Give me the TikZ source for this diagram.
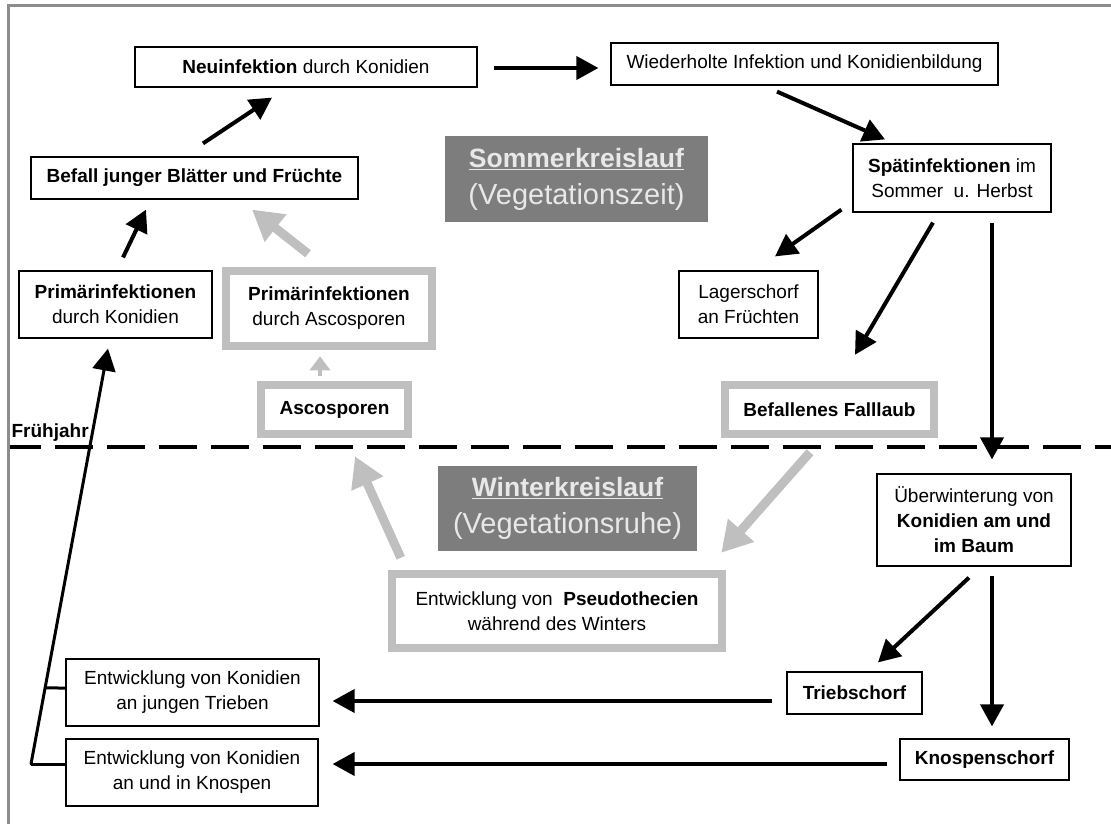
\documentclass[tikz,border=0pt]{standalone}
\usepackage{fontspec}
\setmainfont{Liberation Sans}
\usetikzlibrary{arrows.meta,calc}

\definecolor{framegray}{RGB}{140,140,140}
\definecolor{palegray}{RGB}{191,191,191}
\definecolor{labelgray}{RGB}{125,125,125}
\definecolor{labeltext}{RGB}{232,232,232}

\tikzset{every picture/.style={line width=1.2pt},
  box/.style={draw=black, line width=1.2pt, fill=white, inner sep=0pt, align=center, font=\fontsize{19}{25}\selectfont},
  greybox/.style={box, draw=palegray, line width=8.5pt},
  season/.style={fill=labelgray, text=labeltext, inner sep=0pt, align=center, font=\fontsize{29}{37}\selectfont},
  arr/.style={line width=4pt, -{Triangle[length=22pt,width=23pt]}},
  greyarr/.style={draw=palegray, line width=9pt, -{Triangle[length=30pt,width=33pt]}, fill=palegray},
  thinarr/.style={draw=palegray, line width=4pt, -{Triangle[length=14pt,width=20pt]}, fill=palegray}}

\begin{document}
\begin{tikzpicture}[x=1pt,y=1pt,yscale=-1,xscale=1]
\useasboundingbox (0,0) rectangle (1111,824);

%Frame
\draw [color=framegray, line width=3pt] (7,6) -- (1111,6) ;
\draw [color=framegray, line width=3pt] (8,6) -- (8,824) ;
%Season border
\draw [line width=4pt, dash pattern=on 38pt off 14pt, dash phase=7pt] (10,447) -- (1111,447) ;
\draw (11,437) node [anchor=base west, inner sep=0pt, font=\fontsize{19}{25}\selectfont] (fruehjahr) {\textbf{Frühjahr}};

% Season labels
\draw (576.5,179) node [season, minimum width=263pt, minimum height=86pt] (sommer) {{\fontsize{26.5}{37}\selectfont\bfseries\underline{Sommerkreislauf}}\\(Vegetationszeit)};
\draw (567.5,508.5) node [season, minimum width=259pt, minimum height=85pt] (winter) {{\fontsize{26.5}{37}\selectfont\bfseries\underline{Winterkreislauf}}\\(Vegetationsruhe)};

% Summer boxes
\draw (306,67) node [box, minimum width=342pt, minimum height=40pt] (neu) {\textbf{Neuinfektion} durch Konidien};
\draw (804.5,64) node [box, minimum width=387pt, minimum height=42pt] (wied) {Wiederholte Infektion und Konidienbildung};
\draw (194.5,178) node [box, minimum width=327pt, minimum height=42pt] (befall) {\textbf{Befall junger Blätter und Früchte}};
\draw (952,178) node [box, minimum width=198pt, minimum height=68pt] (spaet) {\textbf{Spätinfektionen} im\\Sommer~ u. Herbst};
\draw (115.5,304.5) node [box, minimum width=193pt, minimum height=67pt] (primk) {\textbf{Primärinfektionen}\\durch Konidien};
\draw (329,308.5) node [greybox, minimum width=206pt, minimum height=75pt] (prima) {\textbf{Primärinfektionen}\\durch Ascosporen};
\draw (334.5,409.5) node [greybox, minimum width=147pt, minimum height=49pt] (asco) {\textbf{Ascosporen}};
\draw (748.5,304.5) node [box, minimum width=139pt, minimum height=67pt] (lager) {Lagerschorf\\an Früchten};
\draw (829.5,409.5) node [greybox, minimum width=209pt, minimum height=49pt] (fall) {\textbf{Befallenes Falllaub}};

% Winter boxes
\draw (974,520) node [box, minimum width=194pt, minimum height=92pt] (ueber) {Überwinterung von\\\textbf{Konidien am und}\\\textbf{im Baum}};
\draw (557,611) node [greybox, minimum width=330pt, minimum height=74pt] (pseudo) {Entwicklung von~ \textbf{Pseudothecien}\\während des Winters};
\draw (192.5,692.5) node [box, minimum width=253pt, minimum height=67pt] (enttrieb) {Entwicklung von Konidien\\an jungen Trieben};
\draw (192,772.5) node [box, minimum width=252pt, minimum height=67pt] (entknosp) {Entwicklung von Konidien\\an und in Knospen};
\draw (854.5,693) node [box, minimum width=135pt, minimum height=42pt] (trieb) {\textbf{Triebschorf}};
\draw (984.5,759.5) node [box, minimum width=169pt, minimum height=41pt] (knosp) {\textbf{Knospenschorf}};

% Summer arrows
\draw [arr] ($(neu.east)+(16,1)$) -- ($(wied.west)+(-12,4)$) ;
\draw [arr] ($(wied.south)+(-27.5,6)$) -- ($(spaet.north)+(-67,-4)$) ;
\draw [arr] ($(befall.north)+(8.5,-13)$) -- ($(neu.south)+(-34,10)$) ;
\draw [arr] ($(primk.north)+(7.5,-13)$) -- ($(befall.south)+(-48.5,10)$) ;
\draw [greyarr] ($(prima.north)+(-21,-13)$) -- ($(befall.south)+(57.5,10)$) ;
\draw [thinarr] ($(asco.north)+(-14.5,-5)$) -- ($(prima.south)+(-9,6)$) ;
\draw [arr] ($(spaet.south west)+(-11,-3)$) -- ($(lager.north)+(26.5,-14)$) ;
\draw [arr] ($(spaet.south)+(-19,10)$) -- ($(fall.north)+(25.5,-26)$) ;
\draw [arr] ($(spaet.south)+(40,10)$) -- ($(ueber.north)+(18,-14)$) ;

% Winter arrows
\draw [greyarr] ($(fall.south)+(-19.5,14)$) -- ($(pseudo.north east)+(-5,-17)$) ;
\draw [greyarr] ($(pseudo.north west)+(13,-12)$) -- ($(asco.south)+(20.5,18)$) ;
\draw [arr] ($(ueber.south)+(-5,11)$) -- ($(trieb.north)+(23.5,-9)$) ;
\draw [arr] ($(ueber.south)+(18,9)$) -- ($(knosp.north)+(7.5,-12)$) ;
\draw [arr] ($(trieb.west)+(-14,8)$) -- ($(enttrieb.east)+(13,8.5)$) ;
\draw [arr] ($(knosp.west)+(-12,4.5)$) -- ($(entknosp.east)+(14,-8.5)$) ;

% Spring return
\coordinate (corner) at (31,764);
\coordinate (tipk) at ($(primk.south)+(-7.5,10)$);
\draw [line width=3pt] ($(entknosp.west)+(0,-8.5)$) -- (corner) ;
\draw [line width=3pt] ($(enttrieb.west)+(0,-4.5)$) -- ($(corner)!0.183!(tipk)$) ;
\draw [arr, line width=3pt, line cap=round] (corner) -- (tipk) ;
\end{tikzpicture}
\end{document}
